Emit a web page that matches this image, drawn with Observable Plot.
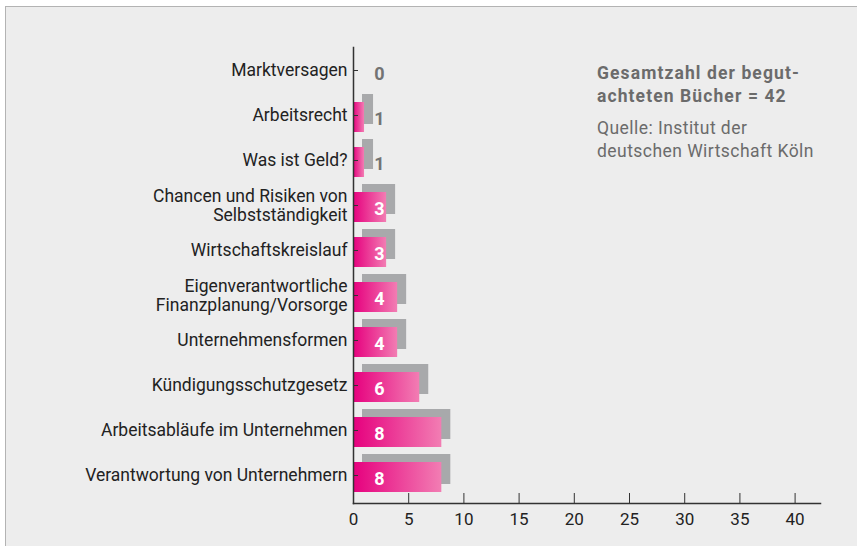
<!DOCTYPE html>
<html>
<head>
<meta charset="utf-8">
<script src="https://cdn.jsdelivr.net/npm/d3@7"></script>
<script src="https://cdn.jsdelivr.net/npm/@observablehq/plot@0.6"></script>
<style>
  html, body { margin: 0; padding: 0; background: #fff; }
  #wrap { position: relative; width: 857px; height: 546px; overflow: hidden; font-family: Roboto, sans-serif; }
  #frame { position: absolute; left: 5px; top: 6px; width: 870px; height: 560px; background: #ededed; border: 1px solid #b3b3b3; }
  #chart { position: absolute; left: 0; top: 0; }
  #note { position: absolute; left: 597px; top: 62px; color: #6b6b6b; font-size: 17.5px; line-height: 23px; letter-spacing: 0.45px; }
  #note .b { font-weight: bold; margin-bottom: 9px; letter-spacing: 1.1px; }
</style>
</head>
<body>
<div id="wrap">
  <div id="frame"></div>
  <div id="chart"></div>
  <div id="note">
    <div class="b">Gesamtzahl der begut-<br>achteten Bücher = 42</div>
    <div>Quelle: Institut der<br>deutschen Wirtschaft Köln</div>
  </div>
</div>
<script>
const categories = [
  "Marktversagen",
  "Arbeitsrecht",
  "Was ist Geld?",
  "Chancen und Risiken von\nSelbstständigkeit",
  "Wirtschaftskreislauf",
  "Eigenverantwortliche\nFinanzplanung/Vorsorge",
  "Unternehmensformen",
  "Kündigungsschutzgesetz",
  "Arbeitsabläufe im Unternehmen",
  "Verantwortung von Unternehmern"
];
const values = [0, 1, 1, 3, 3, 4, 4, 6, 8, 8];
const xTicks = [0, 5, 10, 15, 20, 25, 30, 35, 40];

const data = categories.map((c, i) => ({category: c, value: values[i]}));

const gradient = () => {
  const ns = "http://www.w3.org/2000/svg";
  const defs = document.createElementNS(ns, "defs");
  defs.innerHTML = `<linearGradient id="pinkgrad" x1="0" x2="1" y1="0" y2="0">
    <stop offset="0" stop-color="#e6007e"/>
    <stop offset="1" stop-color="#f27db3"/>
  </linearGradient>`;
  return defs;
};

const chart = Plot.plot({
  width: 857,
  height: 546,
  marginLeft: 353,
  marginRight: 37,
  marginTop: 47,
  marginBottom: 43,
  style: {background: "transparent", fontFamily: "Roboto, sans-serif", fontSize: "17px", color: "#333"},
  x: {domain: [0, 42.3], axis: null},
  y: {domain: categories, paddingInner: 0.333, paddingOuter: 0.226, axis: null},
  marks: [
    gradient,
    Plot.barX(data, {x: "value", y: "category", fill: "#a8a9ab", dx: 9, dy: -8}),
    Plot.barX(data, {x: "value", y: "category", fill: "url(#pinkgrad)"}),
    Plot.axisY({tickSize: -5, tickPadding: 11, fontSize: 17.5, lineHeight: 1.05, stroke: "#333", fill: "#222", dy: -2, label: null}),
    Plot.axisX({ticks: xTicks, tickSize: -10, tickPadding: 19, fontSize: 17, stroke: "#333", fill: "#222", label: null}),
    Plot.frame({anchor: "left", stroke: "#333", strokeWidth: 1.5}),
    Plot.frame({anchor: "bottom", stroke: "#333", strokeWidth: 1.5}),
    Plot.text(data, {x: 0, y: "category", text: d => String(d.value), dx: 26, dy: 2,
      fill: d => d.value >= 2 ? "#ffffff" : "#737373", fontWeight: "bold", fontSize: 18})
  ]
});
document.getElementById("chart").appendChild(chart);
</script>
</body>
</html>
